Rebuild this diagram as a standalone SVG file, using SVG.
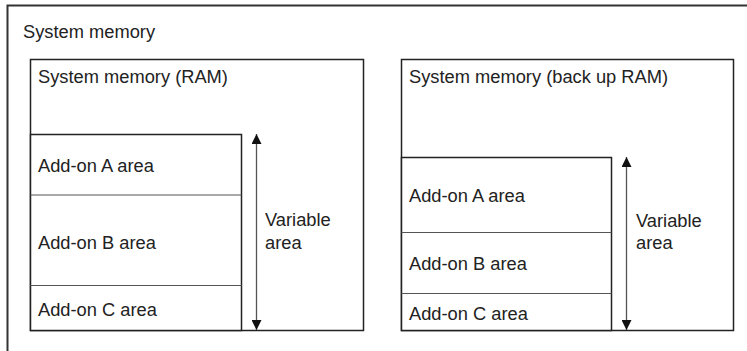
<svg xmlns="http://www.w3.org/2000/svg" width="747" height="351" viewBox="0 0 747 351">
<style>
text{font-family:"Liberation Sans",Arial,sans-serif;font-size:18.3px;fill:#222}
.box{fill:#fff;stroke:#222;stroke-width:1.5}
.div{stroke:#555;stroke-width:1.2;fill:none}
.arr{stroke:#555;stroke-width:1.3;fill:none}
</style>
<defs>
<marker id="ah" viewBox="0 0 10 10" refX="10" refY="5" markerWidth="10" markerHeight="10" markerUnits="userSpaceOnUse" orient="auto-start-reverse">
<path d="M0,0 L10,5 L0,10 Z" fill="#111"/>
</marker>
</defs>
<rect width="747" height="351" fill="#fff"/>
<g id="frame">
<path d="M7.5,351 V5.5 H747" fill="none" stroke="#333" stroke-width="2"/>
<text x="23" y="38">System memory</text>
</g>
<g id="ram">
<rect class="box" x="30.5" y="59.5" width="333" height="271"/>
<text x="38" y="83">System memory (RAM)</text>
<rect class="box" x="30.5" y="134.5" width="211" height="196"/>
<line class="div" x1="30.5" y1="195" x2="241.5" y2="195"/>
<line class="div" x1="30.5" y1="285.5" x2="241.5" y2="285.5"/>
<text x="38" y="172">Add-on A area</text>
<text x="38" y="248.5">Add-on B area</text>
<text x="38" y="316">Add-on C area</text>
<text x="265" y="226">Variable</text>
<text x="265" y="248.5">area</text>
</g>
<g id="backup">
<rect class="box" x="401.5" y="59.5" width="332" height="271"/>
<text x="409" y="83">System memory (back up RAM)</text>
<rect class="box" x="401.5" y="157.5" width="210" height="173"/>
<line class="div" x1="401.5" y1="232.5" x2="611.5" y2="232.5"/>
<line class="div" x1="401.5" y1="293.5" x2="611.5" y2="293.5"/>
<text x="409" y="202">Add-on A area</text>
<text x="409" y="270">Add-on B area</text>
<text x="409" y="319.5">Add-on C area</text>
<text x="636" y="227">Variable</text>
<text x="636" y="248.5">area</text>
</g>
<g id="connectors">
<line class="arr" x1="256.5" y1="134" x2="256.5" y2="330" marker-start="url(#ah)" marker-end="url(#ah)"/>
<line class="arr" x1="626.5" y1="157" x2="626.5" y2="330" marker-start="url(#ah)" marker-end="url(#ah)"/>
</g>
</svg>
